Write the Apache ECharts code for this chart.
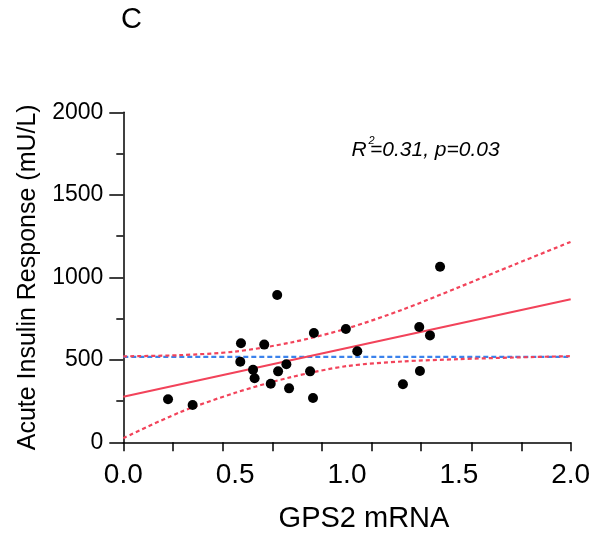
<!DOCTYPE html>
<html>
<head>
<meta charset="utf-8">
<script src="https://cdn.jsdelivr.net/npm/echarts@6/dist/echarts.min.js"></script>
<style>html,body{margin:0;padding:0;background:#fff}#c{width:605px;height:539px}</style>
</head>
<body>
<div id="c"></div>
<script>
// Scatter points: [GPS2 mRNA, Acute Insulin Response]
const gpsMrna = [0.20,0.31,0.526,0.523,0.58,0.587,0.63,0.688,0.692,0.659,0.729,0.741,0.835,0.848,0.852,0.995,1.046,1.416,1.323,1.371,1.326,1.25];
const insulin = [261,226,600,488,440,388,592,893,430,355,473,327,430,268,662,687,552,1064,699,648,432,352];
// Regression line endpoints
const fitX = [0, 2];
const fitY = [276, 867];
// Confidence band
const bandX = [0, 0.25, 0.5, 0.75, 1.0, 1.25, 1.5, 1.75, 2.0];
const bandUpper = [521, 528, 550, 605, 690, 805, 940, 1078, 1215];
const bandLower = [25, 180, 300, 395, 462, 490, 504, 514, 522];
// Horizontal mean line
const meanX = [0, 2];
const meanY = [518, 518];
// Axis ticks / labels
const xLabelValues = [0, 0.5, 1.0, 1.5, 2.0];
const xTickValues = [0, 0.221, 0.443, 0.668, 0.889, 1.110, 1.331, 1.558, 1.782, 2.0];
const yMin = 0, yMax = 2000, yStep = 500;

const pts = gpsMrna.map((x, i) => [x, insulin[i]]);
const pair = (xs, ys) => xs.map((x, i) => [x, ys[i]]);

const RED = '#f2435a', BLUE = '#3b82ec';
const FONT = 'Liberation Sans, Arial, Helvetica, sans-serif';

const chart = echarts.init(document.getElementById('c'), null, {renderer: 'canvas'});
chart.setOption({
  animation: false,
  backgroundColor: '#fff',
  grid: {left: 123.3, right: 34.3, top: 112.3, bottom: 96.7},
  xAxis: {
    type: 'value', min: 0, max: 2, interval: 0.5,
    name: 'GPS2 mRNA', nameLocation: 'middle', nameGap: 62,
    nameTextStyle: {fontFamily: FONT, fontSize: 29, color: '#000', padding: [0, 0, 0, 34]},
    axisLine: {show: true, onZero: false, lineStyle: {color: '#000', width: 1.5}},
    axisTick: {show: true, length: 9, lineStyle: {color: '#000', width: 1.5}, customValues: xTickValues},
    axisLabel: {fontFamily: FONT, fontSize: 28, color: '#000', margin: 19, customValues: xLabelValues,
      formatter: v => v.toFixed(1)},
    splitLine: {show: false}
  },
  yAxis: {
    type: 'value', min: yMin, max: yMax, interval: yStep,
    name: 'Acute Insulin Response (mU/L)', nameLocation: 'middle', nameGap: 83,
    nameTextStyle: {fontFamily: FONT, fontSize: 25, color: '#000'},
    axisLine: {show: true, onZero: false, lineStyle: {color: '#000', width: 1.5}},
    axisTick: {show: true, length: 14, lineStyle: {color: '#000', width: 1.5}},
    minorTick: {show: true, splitNumber: 2, length: 7, lineStyle: {color: '#000', width: 1.5}},
    axisLabel: {fontFamily: FONT, fontSize: 23, color: '#000', margin: 20, formatter: v => String(v)},
    splitLine: {show: false}
  },
  series: [
    {type: 'line', data: pair(meanX, meanY), showSymbol: false, symbol: 'none',
      lineStyle: {color: BLUE, width: 2.2, type: [5, 3]}, z: 2},
    {type: 'line', data: pair(bandX, bandUpper), smooth: 0.3, showSymbol: false, symbol: 'none',
      lineStyle: {color: RED, width: 2.2, type: [4, 3]}, z: 3},
    {type: 'line', data: pair(bandX, bandLower), smooth: 0.3, showSymbol: false, symbol: 'none',
      lineStyle: {color: RED, width: 2.2, type: [4, 3]}, z: 3},
    {type: 'line', data: pair(fitX, fitY), showSymbol: false, symbol: 'none',
      lineStyle: {color: RED, width: 2.2}, z: 4},
    {type: 'scatter', data: pts, symbol: 'circle', symbolSize: 10,
      itemStyle: {color: '#000', opacity: 1}, z: 5}
  ],
  graphic: [
    {type: 'text', left: 121, top: 5, style: {text: 'C', fontFamily: FONT, fontSize: 29, fill: '#000'}},
    {type: 'text', x: 351.5, y: 150, style: {text: 'R', fontFamily: FONT, fontStyle: 'italic', fontSize: 21, fill: '#000', verticalAlign: 'middle', align: 'left'}},
    {type: 'text', x: 368.5, y: 141, style: {text: '2', fontFamily: FONT, fontStyle: 'italic', fontSize: 11, fill: '#000', verticalAlign: 'middle', align: 'left'}},
    {type: 'text', x: 370, y: 150, style: {text: '=0.31, p=0.03', fontFamily: FONT, fontStyle: 'italic', fontSize: 21, fill: '#000', verticalAlign: 'middle', align: 'left'}}
  ]
});
</script>
</body>
</html>
